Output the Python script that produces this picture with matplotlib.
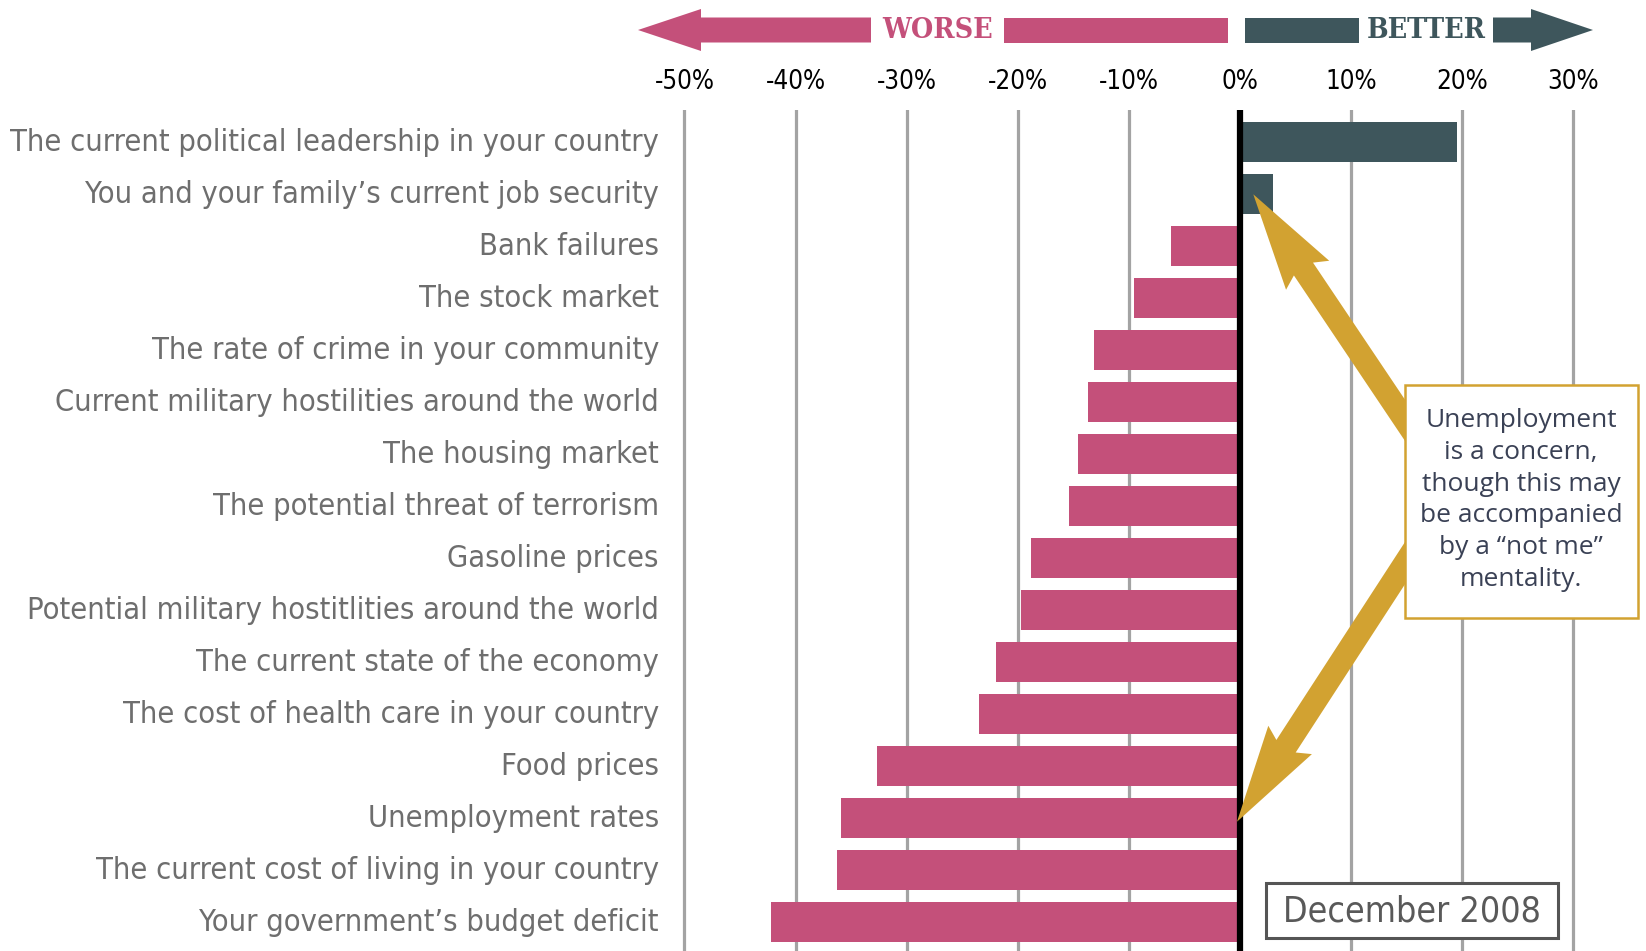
import numpy as np
import matplotlib
matplotlib.use("Agg")
import matplotlib.pyplot as plt
from matplotlib import font_manager as fm
from matplotlib.patches import Polygon, Rectangle
from matplotlib.font_manager import FontProperties
from matplotlib.transforms import ScaledTranslation

# ---------------- data ----------------
categories = [
    "The current political leadership in your country",
    "You and your family\u2019s current job security",
    "Bank failures",
    "The stock market",
    "The rate of crime in your community",
    "Current military hostilities around the world",
    "The housing market",
    "The potential threat of terrorism",
    "Gasoline prices",
    "Potential military hostitlities around the world",
    "The current state of the economy",
    "The cost of health care in your country",
    "Food prices",
    "Unemployment rates",
    "The current cost of living in your country",
    "Your government\u2019s budget deficit",
]
values = [19.5, 3.0, -6.2, -9.5, -13.1, -13.7, -14.6, -15.4, -18.8, -19.7,
          -22.0, -23.5, -32.7, -35.9, -36.3, -42.2]
tick_values = [-50, -40, -30, -20, -10, 0, 10, 20, 30]
tick_labels = ["-50%", "-40%", "-30%", "-20%", "-10%", "0%", "10%", "20%", "30%"]
note_text = "Unemployment\nis a concern,\nthough this may\nbe accompanied\nby a \u201cnot me\u201d\nmentality."
date_text = "December 2008"

# ---------------- style ----------------
PINK = "#C4507A"
TEAL = "#3E565C"
GOLD = "#D2A231"
GRID = "#A3A3A3"
LABEL = "#6E6E6E"


def find_condensed(bold=False):
    want_w = 700 if bold else 400
    best = None
    for f in fm.fontManager.ttflist:
        nm = (f.name + " " + f.fname).lower()
        cond = ("narrow" in nm or "condensed" in nm or
                f.stretch in ("condensed", "semi-condensed", "extra-condensed", 375))
        if not cond or f.style != "normal":
            continue
        if "extra" in nm or "ultra" in nm or "semi" in nm or "mono" in nm:
            continue
        w = f.weight if isinstance(f.weight, int) else (700 if "bold" in str(f.weight) else 400)
        score = abs(w - want_w)
        if "serif" in nm and "sans" not in nm:
            score += 50
        if best is None or score < best[0]:
            best = (score, f.fname)
    return best[1] if best else None


cf = find_condensed()
NARROW_FP = FontProperties(fname=cf) if cf else FontProperties(family="DejaVu Sans")
names = {f.name for f in fm.fontManager.ttflist}
HUMAN = "Open Sans" if "Open Sans" in names else "DejaVu Sans"

W, H = 1646, 951
fig = plt.figure(figsize=(W / 100, H / 100), dpi=100)
renderer = fig.canvas.get_renderer()


def fit_size(text, fp, target_px, base=20.0):
    p = fp.copy()
    p.set_size(base)
    t = fig.text(0, 0, text, fontproperties=p)
    w = t.get_window_extent(renderer).width
    t.remove()
    return base * target_px / w


label_size = fit_size(categories[0], NARROW_FP, 646)
tick_size = fit_size("-50%", NARROW_FP, 60)
date_size = fit_size(date_text, NARROW_FP, 258)

# axis mapping (pixels)
zero_px, px_per = 1240.0, 11.11
xmin, xmax = -52.0, 36.5
row0, pitch = 142.3, 52.0
top_px = 110.0
ax_left = zero_px + xmin * px_per
ax_w = (xmax - xmin) * px_per
ax = fig.add_axes([ax_left / W, 0, ax_w / W, (H - top_px) / H])
ax.set_xlim(xmin, xmax)
ax.set_ylim((H - row0) / pitch, (top_px - row0) / pitch)

y = np.arange(len(categories))
colors = [PINK if v < 0 else TEAL for v in values]
ax.barh(y, values, height=40 / 52, color=colors, zorder=3)
ax.axvline(0, color="black", lw=4.5, zorder=4)

ax.set_xticks(tick_values, labels=tick_labels)
ax.xaxis.tick_top()
ax.grid(axis="x", color=GRID, lw=2.3, zorder=1)
ax.set_axisbelow(True)
ax.tick_params(axis="x", length=0, pad=10.5, labelcolor="black")
for t in ax.get_xticklabels():
    t.set_fontproperties(NARROW_FP)
    t.set_fontsize(tick_size)

ax.set_yticks(y, labels=categories)
ax.tick_params(axis="y", length=0, pad=2.4, labelcolor=LABEL)
shift_up = ScaledTranslation(0, 3 / 100, fig.dpi_scale_trans)
for t in ax.get_yticklabels():
    t.set_fontproperties(NARROW_FP)
    t.set_fontsize(label_size)
    t.set_transform(t.get_transform() + shift_up)
for s in ax.spines.values():
    s.set_visible(False)

# ---------------- overlay in pixel space ----------------
ov = fig.add_axes([0, 0, 1, 1], zorder=5)
ov.set_xlim(0, W)
ov.set_ylim(H, 0)
ov.axis("off")
ov.patch.set_alpha(0)

# top direction arrows
cy, sh, hh = 30.0, 12.5, 21.0
ov.add_patch(Polygon([(638, cy), (701, cy - hh), (701, cy - sh), (871, cy - sh),
                      (871, cy + sh), (701, cy + sh), (701, cy + hh)],
                     closed=True, fc=PINK, ec="none"))
ov.add_patch(Rectangle((1004, cy - sh), 224, 2 * sh, fc=PINK, ec="none"))
ov.add_patch(Rectangle((1245, cy - sh), 114, 2 * sh, fc=TEAL, ec="none"))
ov.add_patch(Polygon([(1593, cy), (1531, cy - hh), (1531, cy - sh), (1493, cy - sh),
                      (1493, cy + sh), (1531, cy + sh), (1531, cy + hh)],
                     closed=True, fc=TEAL, ec="none"))
ov.text(938, cy + 1, "WORSE", color=PINK, fontsize=20.5, fontweight="bold",
        family="DejaVu Serif", fontstretch="condensed", ha="center", va="center")
ov.text(1426, cy + 1, "BETTER", color=TEAL, fontsize=20.5, fontweight="bold",
        family="DejaVu Serif", fontstretch="condensed", ha="center", va="center")


def fat_arrow(tip, tail):
    tip = np.asarray(tip, float)
    tail = np.asarray(tail, float)
    u = (tail - tip) / np.linalg.norm(tail - tip)
    n = np.array([-u[1], u[0]])
    pts = [tip,
           tip + u * 97.5 + n * 26,
           tip + u * 90 + n * 11.5,
           tail + n * 11.5,
           tail - n * 11.5,
           tip + u * 90 - n * 11.5,
           tip + u * 97.5 - n * 26]
    return Polygon(pts, closed=True, fc=GOLD, ec="none", zorder=2)


ov.add_patch(fat_arrow((1253.3, 194.3), (1437, 468)))
ov.add_patch(fat_arrow((1237, 821.7), (1433, 520)))

# annotation box
ov.add_patch(Rectangle((1405, 385), 233, 233, fc="white", ec=GOLD, lw=1.8, zorder=3))
ov.text(1521, 500, note_text, ha="center", va="center", multialignment="center",
        color="#3A4155", fontsize=19, family=HUMAN, linespacing=1.36, zorder=4)

# date box
ov.add_patch(Rectangle((1266, 883), 292, 55, fc="white", ec="#555555", lw=2.2, zorder=3))
dfp = NARROW_FP.copy()
dfp.set_size(date_size)
ov.text(1412, 911, date_text, ha="center", va="center", color="#595959",
        fontproperties=dfp, zorder=4)

fig.savefig("out.png", dpi=100)
